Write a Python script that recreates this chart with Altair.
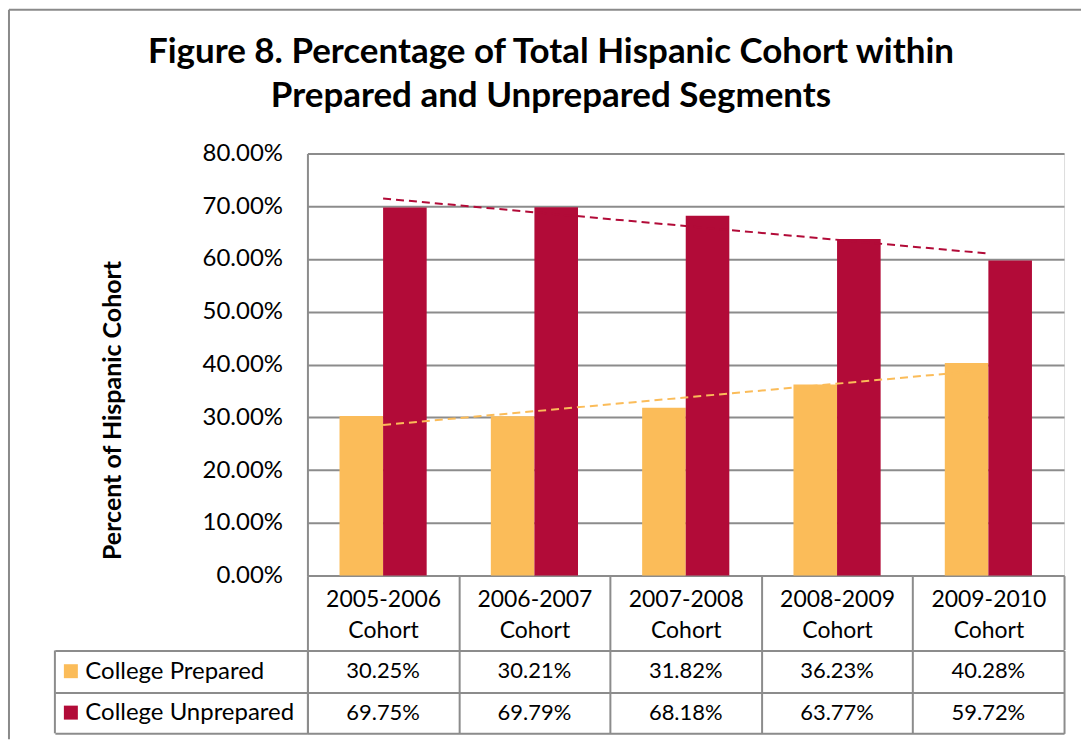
import altair as alt
import pandas as pd

# ---- data ----
cohorts = ["2005-2006 Cohort", "2006-2007 Cohort", "2007-2008 Cohort",
           "2008-2009 Cohort", "2009-2010 Cohort"]
series = ["College Prepared", "College Unprepared"]
prepared = [30.25, 30.21, 31.82, 36.23, 40.28]
unprepared = [69.75, 69.79, 68.18, 63.77, 59.72]
y_ticks = [0, 10, 20, 30, 40, 50, 60, 70, 80]
colors = ["#FBBC59", "#B20B38"]

rows = []
for i, c in enumerate(cohorts):
    rows.append({"cohort": c, "idx": i + 1, "series": series[0], "value": prepared[i]})
    rows.append({"cohort": c, "idx": i + 1, "series": series[1], "value": unprepared[i]})
df = pd.DataFrame(rows)

FONT = "Lato"
GRID = "#8c8c8c"
FRAME = "#8a8a8a"
W = 758
H = 423
TABLE_H = 83

color_scale = alt.Scale(domain=series, range=colors)
x_scale = alt.Scale(domain=cohorts, paddingInner=0, paddingOuter=0)
y_scale = alt.Scale(domain=[0, 80], nice=False, zero=True)

y_axis = alt.Axis(
    values=y_ticks, labelExpr="format(datum.value, '.2f') + '%'",
    labelFont=FONT, labelFontSize=24, labelColor="black", labelPadding=25,
    ticks=False, domain=True, domainColor=GRID, domainWidth=2,
    grid=True, gridColor=GRID, gridWidth=2,
    title="Percent of Hispanic Cohort", titleFont=FONT, titleFontSize=25,
    titleFontWeight="bold", titleColor="black", titleAngle=270,
    titleX=-195, titleY=257, titleAlign="center", titleBaseline="middle",
)

base = alt.Chart(df)

bars = base.mark_bar().encode(
    x=alt.X("cohort:N", scale=x_scale, sort=cohorts, axis=alt.Axis(
        title=None, orient="bottom", labelAngle=0,
        labelExpr="split(datum.label, ' ')",
        labelFont=FONT, labelFontSize=23, labelColor="black",
        labelBaseline="middle", labelLineHeight=31, labelPadding=-50,
        domain=True, domainColor=GRID, domainWidth=2,
        ticks=True, tickBand="extent", tickSize=74, tickColor=GRID, tickWidth=2,
        grid=False)),
    xOffset=alt.XOffset("series:N", sort=series,
                        scale=alt.Scale(domain=series, paddingInner=0, paddingOuter=0.736)),
    y=alt.Y("value:Q", scale=y_scale, axis=y_axis),
    color=alt.Color("series:N", scale=color_scale, legend=None),
)

trend = base.transform_regression("idx", "value", groupby=["series"]).mark_line(
    strokeDash=[8, 5], strokeWidth=2
).encode(
    x=alt.X("idx:Q", scale=alt.Scale(domain=[0.5, len(cohorts) + 0.5], nice=False, zero=False),
            axis=None),
    y=alt.Y("value:Q", scale=y_scale, axis=y_axis),
    color=alt.Color("series:N", scale=color_scale, legend=None),
)

frame_data = alt.Data(values=[{}])
left_rule = alt.Chart(frame_data).mark_rule(color=FRAME, strokeWidth=2).encode(
    x=alt.value(-299), y=alt.value(-144), y2=alt.value(587))
top_rule = alt.Chart(frame_data).mark_rule(color=FRAME, strokeWidth=2).encode(
    x=alt.value(-299), x2=alt.value(775), y=alt.value(-144))

main = alt.layer(bars, trend, left_rule, top_rule).resolve_scale(
    x="independent"
).properties(
    width=W, height=H,
    title=alt.TitleParams(
        text=["Figure 8. Percentage of Total Hispanic Cohort within",
              "Prepared and Unprepared Segments"],
        font=FONT, fontSize=35, fontWeight="bold", color="black",
        anchor="middle", frame="bounds", baseline="bottom", lineHeight=45,
        offset=-141, dx=6,
    ),
)

# ---- data table below the chart ----
table_y_axis = alt.Axis(
    title=None, orient="left", labelAlign="left", labelPadding=-30,
    labelFont=FONT, labelFontSize=24, labelColor="black", labelLimit=0,
    domain=True, domainColor=GRID, domainWidth=2,
    ticks=True, tickBand="extent", tickSize=253, tickColor=GRID, tickWidth=2,
    grid=True, gridColor=GRID, gridWidth=2,
)
ty_scale = alt.Scale(domain=series, paddingInner=0, paddingOuter=0)

texts = alt.Chart(df).transform_calculate(
    label="format(datum.value, '.2f') + '%'"
).mark_text(font=FONT, fontSize=22, color="black").encode(
    x=alt.X("cohort:N", scale=x_scale, sort=cohorts, axis=alt.Axis(
        title=None, orient="top", labels=False, ticks=False, domain=False,
        grid=True, gridColor=GRID, gridWidth=2, tickBand="extent")),
    y=alt.Y("series:N", scale=ty_scale, sort=series, axis=table_y_axis),
    text="label:N",
)

squares = alt.Chart(pd.DataFrame({"series": series})).mark_square(
    size=196, opacity=1, filled=True
).encode(
    x=alt.value(-237),
    y=alt.Y("series:N", scale=ty_scale, sort=series, axis=table_y_axis),
    color=alt.Color("series:N", scale=color_scale, legend=None),
)

left_edge = alt.Chart(frame_data).mark_rule(color=GRID, strokeWidth=2).encode(
    x=alt.value(-253), y=alt.value(0), y2=alt.value(TABLE_H))

table = alt.layer(texts, squares, left_edge).properties(width=W, height=TABLE_H)

chart = alt.vconcat(main, table, spacing=75, bounds="flush").resolve_scale(
    x="independent", y="independent"
).configure_view(stroke=None).configure(font=FONT).properties(
    padding={"left": 7, "top": 7, "right": 0, "bottom": 0}
)

chart.save("out.html", embed_options={"renderer": "svg", "actions": False})
